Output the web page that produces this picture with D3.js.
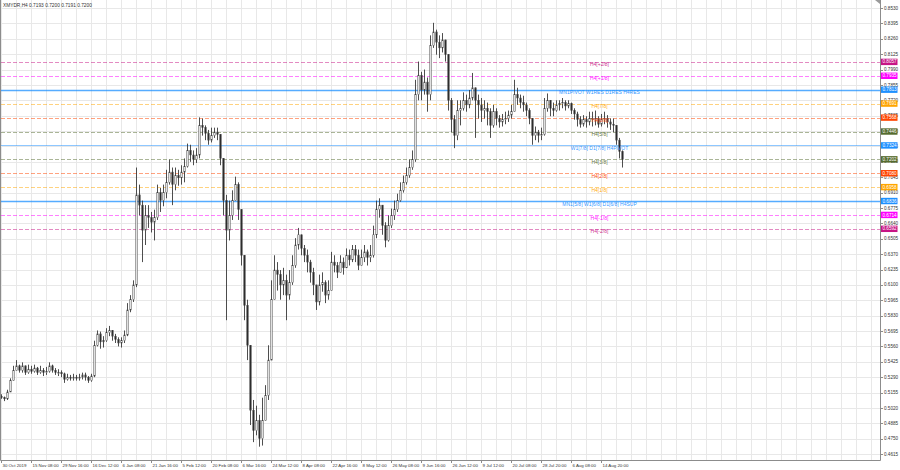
<!DOCTYPE html>
<html><head><meta charset="utf-8">
<script src="https://cdn.jsdelivr.net/npm/d3@7"></script>
<style>
html,body{margin:0;padding:0;background:#fff;}
svg{display:block;font-family:"Liberation Sans",Arial,sans-serif;}
</style></head>
<body><svg id="c" width="900" height="470"></svg>
<script>
const title = "XMYDR,H4  0.7193 0.7200 0.7191 0.7200";
const firstOpen = 0.512;
const closes = [.511,.510,.516,.526,.535,.539,.535,.539,.533,.536,
.534,.537,.533,.535,.533,.534,.539,.535,.533,.533,
.532,.527,.529,.528,.529,.528,.529,.531,.529,.526,
.530,.557,.567,.560,.561,.568,.570,.565,.562,.559,
.561,.566,.588,.597,.610,.689,.680,.658,.671,.669,
.665,.669,.691,.684,.691,.700,.709,.698,.706,.704,
.709,.714,.728,.724,.720,.724,.750,.748,.743,.737,
.741,.744,.742,.721,.684,.658,.671,.684,.698,.676,
.636,.592,.557,.500,.482,.491,.475,.491,.513,.544,
.597,.623,.619,.610,.614,.601,.612,.627,.645,.654,
.642,.636,.630,.621,.610,.595,.610,.612,.601,.605,
.630,.627,.621,.630,.625,.636,.632,.641,.636,.627,
.634,.639,.634,.636,.654,.676,.680,.662,.649,.662,
.671,.676,.684,.693,.700,.706,.713,.720,.777,.794,
.781,.788,.777,.820,.832,.823,.818,.825,.812,.772,
.755,.741,.763,.765,.772,.768,.774,.783,.772,.768,
.763,.765,.762,.750,.762,.756,.753,.755,.756,.759,
.762,.777,.774,.770,.768,.763,.756,.741,.744,.741,
.742,.765,.772,.765,.763,.768,.769,.770,.767,.769,
.763,.760,.755,.751,.755,.753,.756,.755,.756,.751,
.755,.756,.753,.751,.750,.737,.727,.7200];
const highs = [.514,.512,.518,.528,.539,.544,.540,.542,.539,.540,
.539,.540,.538,.539,.537,.538,.542,.540,.537,.536,
.535,.533,.532,.531,.532,.531,.532,.533,.533,.530,
.532,.561,.570,.569,.565,.572,.574,.570,.567,.564,
.564,.570,.594,.601,.614,.713,.698,.684,.680,.680,
.674,.676,.698,.695,.698,.711,.720,.713,.713,.711,
.715,.721,.734,.733,.728,.730,.757,.756,.750,.746,
.748,.748,.748,.741,.706,.689,.684,.693,.705,.700,
.671,.605,.597,.526,.509,.504,.496,.511,.522,.557,
.614,.636,.630,.623,.625,.619,.623,.636,.651,.660,
.651,.645,.641,.632,.625,.610,.619,.621,.614,.614,
.639,.636,.630,.636,.634,.642,.641,.645,.645,.641,
.641,.645,.641,.645,.662,.684,.686,.680,.665,.671,
.677,.684,.690,.700,.706,.713,.720,.728,.790,.806,
.797,.799,.792,.829,.840,.834,.829,.831,.825,.812,
.774,.759,.772,.772,.779,.777,.781,.796,.783,.777,
.774,.772,.770,.765,.768,.765,.759,.760,.762,.763,
.768,.790,.783,.777,.776,.770,.765,.755,.749,.746,
.748,.774,.778,.772,.770,.772,.772,.774,.772,.772,
.770,.765,.762,.758,.759,.758,.762,.762,.763,.758,
.760,.762,.759,.756,.756,.750,.739,.728];
const lows = [.510,.508,.509,.516,.526,.535,.533,.533,.531,.532,
.532,.533,.531,.532,.530,.531,.533,.533,.531,.530,
.529,.524,.526,.526,.526,.526,.526,.527,.526,.524,
.525,.529,.556,.554,.555,.560,.565,.561,.559,.556,
.555,.559,.565,.586,.595,.608,.671,.630,.645,.660,
.656,.649,.667,.674,.679,.686,.698,.680,.693,.697,
.698,.700,.713,.718,.715,.717,.721,.741,.737,.733,
.735,.739,.737,.715,.671,.579,.649,.667,.684,.667,
.627,.579,.544,.487,.472,.478,.468,.469,.500,.509,
.553,.601,.605,.597,.601,.579,.597,.610,.625,.641,
.636,.630,.621,.612,.601,.588,.592,.604,.594,.597,
.616,.621,.616,.623,.619,.625,.627,.630,.630,.623,
.627,.630,.627,.630,.634,.651,.669,.654,.643,.648,
.660,.667,.674,.683,.691,.698,.704,.711,.718,.772,
.772,.777,.762,.772,.818,.812,.809,.814,.806,.763,
.744,.730,.737,.750,.763,.762,.765,.772,.739,.756,
.753,.756,.750,.739,.748,.750,.748,.749,.751,.753,
.756,.762,.768,.765,.762,.758,.751,.733,.737,.735,
.737,.741,.762,.758,.758,.762,.763,.765,.763,.765,
.760,.755,.749,.748,.749,.748,.750,.749,.750,.748,
.749,.751,.748,.746,.744,.733,.721,.713];
const xTickLabels = ["30 Oct 2019","15 Nov 08:00","29 Nov 16:00","16 Dec 12:00","6 Jan 08:00","21 Jan 16:00","5 Feb 12:00","20 Feb 08:00","6 Mar 16:00","24 Mar 12:00","8 Apr 08:00","22 Apr 16:00","8 May 12:00","26 May 08:00","9 Jun 16:00","26 Jun 12:00","9 Jul 12:00","20 Jul 08:00","28 Jul 20:00","6 Aug 08:00","14 Aug 20:00"];
const yTickValues = [0.8530,0.8395,0.8260,0.8125,0.7990,0.7855,0.7720,0.7585,0.7450,0.7315,0.7180,0.7045,0.6910,0.6775,0.6640,0.6505,0.6370,0.6235,0.6100,0.5965,0.5830,0.5695,0.5560,0.5425,0.5290,0.5155,0.5020,0.4885,0.4750,0.4615];
const levelNames = ["H4[+2/8]","H4[+1/8]","MN1PIVOT W1RES D1RES H4RES","H4[7/8]","H4[6/8]","H4[5/8]","W1[7/8] D1[7/8] H4PIVOT","H4[3/8]","H4[2/8]","H4[1/8]","MN1[5/8] W1[6/8] D1[6/8] H4SUP","H4[-1/8]","H4[-2/8]"];
const levelValues = [0.8057,0.7935,0.7813,0.7691,0.7568,0.7446,0.7324,0.7202,0.7080,0.6958,0.6836,0.6714,0.6592];

// styles
const levelColors = ["#c71585","#ff00ff","#1e90ff","#ffa500","#ff4500","#556b2f","#1e90ff","#556b2f","#ff4500","#ffa500","#1e90ff","#ff00ff","#c71585"];
const levelSolid = [false,false,true,false,false,false,true,false,false,false,true,false,false];
const levelWidth = [1,1,1.4,1,1,1,1,1,1,1,1.4,1,1];

const svg = d3.select("#c");
const L = 1, R = 880, T = 0, B = 460;
const nSlots = 293;
const x = d3.scaleLinear().domain([0, nSlots]).range([1, 880]);
const y = d3.scaleLinear().domain([0.4615, 0.8530]).range([454.1, 8]);

// grid
const g = svg.append("g");
const vIdx = d3.range(0, nSlots + 1, 5);
g.selectAll("line.v").data(vIdx).join("line")
  .attr("x1", d => Math.round(x(d)) + 0.5).attr("x2", d => Math.round(x(d)) + 0.5)
  .attr("y1", T).attr("y2", B).attr("stroke", "#e8e8e8").attr("stroke-width", 1);
g.selectAll("line.h").data(yTickValues).join("line")
  .attr("x1", L).attr("x2", R).attr("y1", d => Math.round(y(d)) + 0.5).attr("y2", d => Math.round(y(d)) + 0.5)
  .attr("stroke", "#e8e8e8").attr("stroke-width", 1);

// level lines
const lv = svg.append("g");
levelValues.forEach((v, i) => {
  lv.append("line").attr("x1", L).attr("x2", R)
    .attr("y1", Math.round(y(v)) + 0.5).attr("y2", Math.round(y(v)) + 0.5)
    .attr("stroke", levelColors[i])
    .attr("stroke-width", levelWidth[i])
    .attr("stroke-opacity", levelSolid[i] ? (levelWidth[i] > 1 ? 0.75 : 0.5) : 0.5)
    .attr("stroke-dasharray", levelSolid[i] ? null : "4,2");
});

// candles
const cg = svg.append("g");
const candles = closes.map((c, i) => {
  const o = i === 0 ? firstOpen : closes[i - 1];
  return {i, o, c, h: Math.max(highs[i], o, c), l: Math.min(lows[i], o, c)};
});
cg.selectAll("line").data(candles).join("line")
  .attr("x1", d => Math.round(x(d.i)) + 0.5).attr("x2", d => Math.round(x(d.i)) + 0.5)
  .attr("y1", d => y(d.h)).attr("y2", d => y(d.l))
  .attr("stroke", "#3a3a3a").attr("stroke-width", 0.9);
cg.selectAll("rect").data(candles).join("rect")
  .attr("x", d => Math.round(x(d.i)) - 0.2)
  .attr("width", 1.4)
  .attr("y", d => y(Math.max(d.o, d.c)))
  .attr("height", d => Math.max(0.8, Math.abs(y(d.o) - y(d.c))))
  .attr("fill", d => d.c >= d.o ? "#f4f4f4" : "#2e2e2e")
  .attr("stroke", "#3a3a3a").attr("stroke-width", 0.5);

// level texts
const lt = svg.append("g");
levelValues.forEach((v, i) => {
  lt.append("text").attr("x", 599.5).attr("y", y(v) + 4.6)
    .attr("text-anchor", "middle").attr("font-size", 5)
    .attr("fill", levelColors[i]).attr("fill-opacity", 0.95)
    .text(levelNames[i]);
});

// frame
svg.append("path").attr("d", `M${L - 0.5},${T} V${B + 0.5} H${R + 0.5} V${T}`)
  .attr("fill", "none").attr("stroke", "#8c8c8c").attr("stroke-width", 1);
svg.append("path").attr("d", "M875,0 L880,0 L880,4 Z").attr("fill", "#9a9a9a");

// y axis
const ya = svg.append("g");
ya.selectAll("line").data(yTickValues).join("line")
  .attr("x1", R + 0.5).attr("x2", R + 3).attr("y1", d => Math.round(y(d)) + 0.5).attr("y2", d => Math.round(y(d)) + 0.5)
  .attr("stroke", "#8c8c8c");
ya.selectAll("text").data(yTickValues).join("text")
  .attr("x", 884).attr("y", d => y(d) + 1.6)
  .attr("font-size", 4.6).attr("fill", "#333")
  .text(d => d3.format(".4f")(d));

// level price boxes
const lb = svg.append("g");
levelValues.forEach((v, i) => {
  const yy = y(v);
  lb.append("rect").attr("x", 881).attr("y", yy - 3.2).attr("width", 16.5).attr("height", 6.4)
    .attr("fill", levelColors[i]);
  lb.append("text").attr("x", 882.5).attr("y", yy + 1.6).attr("font-size", 4.6)
    .attr("fill", "#fff").text(d3.format(".4f")(v));
});

// x axis
const xa = svg.append("g");
xTickLabels.forEach((s, k) => {
  const xx = Math.round(x(k * 10)) + 0.5;
  xa.append("line").attr("x1", xx).attr("x2", xx).attr("y1", B).attr("y2", B + 3).attr("stroke", "#8c8c8c");
  xa.append("text").attr("x", xx + 1).attr("y", 466.5).attr("font-size", 4.4).attr("fill", "#333").text(s);
});

// title
svg.append("text").attr("x", 3).attr("y", 6.5).attr("font-size", 4.8).attr("fill", "#333").text(title);
</script></body></html>
